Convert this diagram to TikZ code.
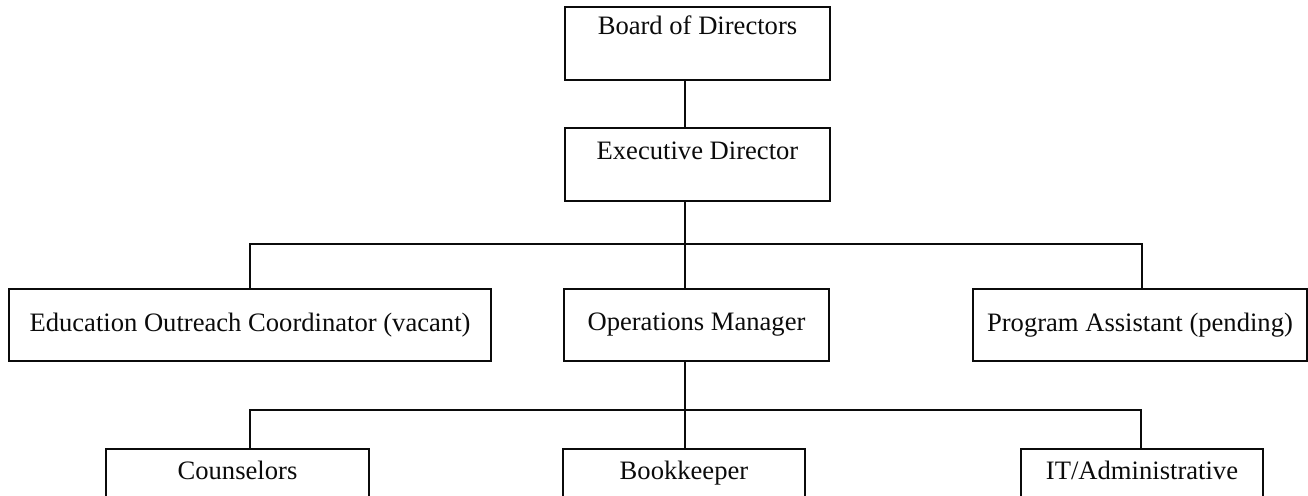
\documentclass[tikz,border=0pt]{standalone}
\usepackage{fontspec}
\setmainfont{Liberation Serif}
\usetikzlibrary{positioning}
\definecolor{tinta}{HTML}{0B0B0B}
\tikzset{
  caja/.style={draw=tinta,line width=1pt,inner sep=0pt,minimum height=36pt,font=\fontsize{13.3}{15}\selectfont,text=tinta,anchor=north west},
  cajaalta/.style={caja,text height=15pt,text depth=21.5pt},
  linea/.style={draw=tinta,line width=0.8pt},
}
\begin{document}
\begin{tikzpicture}[x=0.5pt,y=-0.5pt]
  \useasboundingbox (0,0) rectangle (1308,495);
  \clip (0,0) rectangle (1308,495);
  % cabeza
  \node[cajaalta,minimum width=132.5pt,text height=13.5pt,text depth=23pt] (junta) at (564,6) {Board of Directors};
  \node[cajaalta,minimum width=132.5pt,text height=15.5pt,text depth=21pt] (director) at (564,127) {Executive Director};
  % segundo nivel
  \node[caja,minimum width=241pt] (educacion) at (8,288) {Education Outreach Coordinator (vacant)};
  \node[caja,minimum width=132.5pt] (operaciones) at (563,288) {Operations Manager};
  \node[caja,minimum width=167pt] (programa) at (972,288) {Program Assistant (pending)};
  % tercer nivel
  \node[cajaalta,minimum width=131.5pt] (consejeros) at (105,448) {Counselors};
  \node[cajaalta,minimum width=121pt] (contable) at (562,448) {Bookkeeper};
  \node[cajaalta,minimum width=121pt] (sistemas) at (1020,448) {IT/Administrative};
  % conectores
  \coordinate (eje) at (685,0);
  \coordinate (bus1) at (250,244); \coordinate (bus1r) at (1142,244);
  \coordinate (bus2) at (250,410); \coordinate (bus2r) at (1141,410);
  \draw[linea] (junta.south -| eje) -- (director.north -| eje);
  \draw[linea] (director.south -| eje) -- (operaciones.north -| eje);
  \draw[linea] (educacion.north -| bus1) |- (bus1r) -- (programa.north -| bus1r);
  \draw[linea] (operaciones.south -| eje) -- (contable.north -| eje);
  \draw[linea] (consejeros.north -| bus2) |- (bus2r) -- (sistemas.north -| bus2r);
\end{tikzpicture}
\end{document}
